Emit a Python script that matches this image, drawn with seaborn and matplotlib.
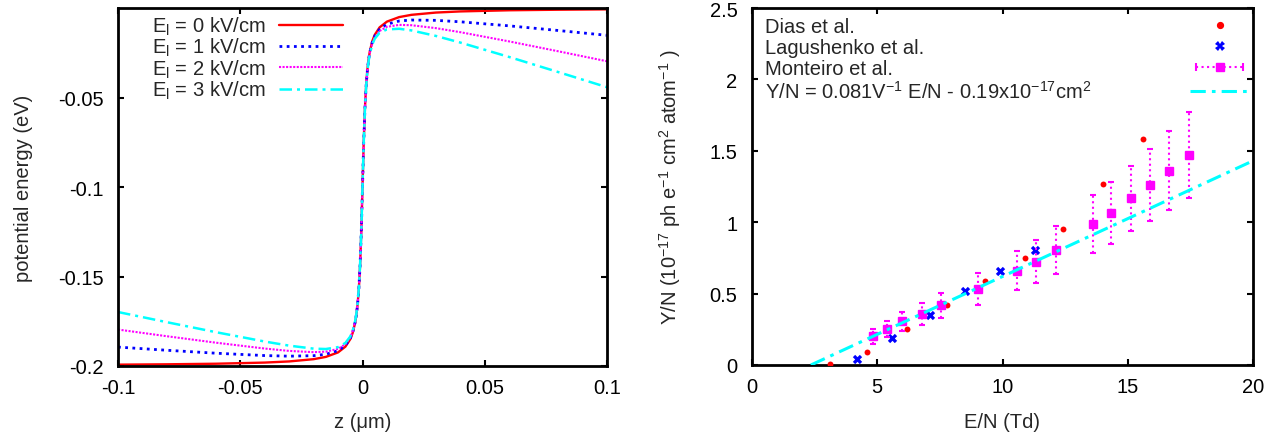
import numpy as np
import pandas as pd
import seaborn as sns
import matplotlib
matplotlib.use('Agg')
import matplotlib.pyplot as plt
from matplotlib.lines import Line2D
from matplotlib.legend_handler import HandlerLine2D, HandlerTuple
from matplotlib.ticker import FuncFormatter

# left panel: potential energy across the interface
z_um = [-0.1, -0.08, -0.06, -0.04, -0.03, -0.02, -0.015, -0.01, -0.007, -0.005,
        -0.004, -0.003, -0.0025, -0.002, -0.0015, -0.001, -0.0005, 0.0,
        0.0005, 0.001, 0.0015, 0.002, 0.0025, 0.003, 0.004, 0.005,
        0.007, 0.01, 0.015, 0.02, 0.03, 0.04, 0.06, 0.08, 0.1]
pot_e0 = [-0.19924, -0.19905, -0.19873, -0.19809, -0.19745, -0.19619, -0.19492, -0.19240, -0.18919, -0.18501,
          -0.18145, -0.17578, -0.17151, -0.16560, -0.15705, -0.14423, -0.12513, -0.1,
          -0.07487, -0.05577, -0.04296, -0.03440, -0.02849, -0.02422, -0.01856, -0.01500,
          -0.01081, -0.00760, -0.00508, -0.00382, -0.00255, -0.00191, -0.00127, -0.00096, -0.00076]
pot_e1 = [-0.18944, -0.19121, -0.19285, -0.19417, -0.19451, -0.19423, -0.19345, -0.19142, -0.18850, -0.18452,
          -0.18106, -0.17549, -0.17127, -0.16540, -0.15690, -0.14413, -0.12508, -0.1,
          -0.07494, -0.05592, -0.04318, -0.03469, -0.02885, -0.02466, -0.01914, -0.01572,
          -0.01182, -0.00905, -0.00726, -0.00672, -0.00690, -0.00771, -0.00997, -0.01256, -0.01526]
pot_e2 = [-0.17964, -0.18337, -0.18697, -0.19025, -0.19157, -0.19227, -0.19198, -0.19044, -0.18782, -0.18403,
          -0.18066, -0.17519, -0.17102, -0.16521, -0.15676, -0.14403, -0.12503, -0.1,
          -0.07502, -0.05606, -0.04339, -0.03498, -0.02922, -0.02509, -0.01972, -0.01645,
          -0.01284, -0.01050, -0.00943, -0.00962, -0.01125, -0.01351, -0.01867, -0.02416, -0.02976]
pot_e3 = [-0.16984, -0.17553, -0.18109, -0.18633, -0.18863, -0.19031, -0.19051, -0.18946, -0.18713, -0.18354,
          -0.18027, -0.17490, -0.17078, -0.16501, -0.15661, -0.14394, -0.12498, -0.1,
          -0.07509, -0.05621, -0.04361, -0.03527, -0.02958, -0.02553, -0.02030, -0.01717,
          -0.01385, -0.01195, -0.01161, -0.01252, -0.01560, -0.01931, -0.02737, -0.03576, -0.04426]
field_labels = [r'E$_\mathrm{l}$ = 0 kV/cm', r'E$_\mathrm{l}$ = 1 kV/cm',
                r'E$_\mathrm{l}$ = 2 kV/cm', r'E$_\mathrm{l}$ = 3 kV/cm']

# right panel: reduced light yield vs reduced field
dias_en = [3.1, 4.6, 6.2, 7.8, 9.3, 10.9, 12.4, 14.0, 15.6]
dias_yield = [0.01, 0.09, 0.25, 0.42, 0.585, 0.75, 0.955, 1.27, 1.58]
lag_en = [4.2, 5.6, 7.1, 8.5, 9.9, 11.3]
lag_yield = [0.045, 0.19, 0.35, 0.515, 0.66, 0.805]
mont_en = [4.83, 5.38, 6.0, 6.8, 7.53, 9.02, 10.58, 11.32, 12.12, 13.61, 14.34, 15.14, 15.89, 16.63, 17.43]
mont_yield = [0.20, 0.252, 0.305, 0.357, 0.417, 0.531, 0.66, 0.723, 0.804, 0.988, 1.063, 1.166, 1.259, 1.359, 1.471]
mont_err = [0.052, 0.058, 0.068, 0.076, 0.089, 0.112, 0.137, 0.152, 0.166, 0.203, 0.218, 0.231, 0.254, 0.277, 0.30]
fit_en = [2.35, 20.0]
fit_yield = [0.0, 1.43]
yield_labels = ['Dias et al.', 'Lagushenko et al.', 'Monteiro et al.',
                r'Y/N = 0.081V$^{-1}$ E/N - 0.19x10$^{-17}$cm$^2$']

sns.set_theme(style='ticks')
plt.rcParams['font.family'] = ['Liberation Sans', 'DejaVu Sans']
plt.rcParams['mathtext.fontset'] = 'custom'
plt.rcParams['mathtext.rm'] = 'Liberation Sans'
plt.rcParams['mathtext.it'] = 'Liberation Sans:italic'
plt.rcParams['mathtext.default'] = 'regular'
plt.rcParams['axes.unicode_minus'] = False

fs = 14.5
red, blue, mag, cyan = '#ff0000', '#0000ff', '#ff00ff', '#00ffff'
dashdot = (5, 2, 1.2, 2)

fig = plt.figure(figsize=(12.88, 4.39), dpi=100)
ax1 = fig.add_axes([118 / 1288, 72 / 439, 489 / 1288, 358 / 439])
ax2 = fig.add_axes([752 / 1288, 73 / 439, 501 / 1288, 357 / 439])

# 左圖：四條電位曲線
styles = [(red, 1.7, None), (blue, 2.0, (1, 1.6)), (mag, 1.5, (1, 0.7)), (cyan, 1.8, dashdot)]
for vals, lab, (col, lw, dash) in zip([pot_e0, pot_e1, pot_e2, pot_e3], field_labels, styles):
    sns.lineplot(x=z_um, y=vals, ax=ax1, color=col, lw=lw, sort=False, estimator=None, legend=False)
    ax1.lines[-1].set_label(lab)
    if dash:
        ax1.lines[-1].set_dashes(dash)

ax1.set_xlim(-0.1, 0.1)
ax1.set_ylim(-0.2, 0.0)
ax1.set_xticks([-0.1, -0.05, 0, 0.05, 0.1])
ax1.set_yticks([-0.2, -0.15, -0.1, -0.05])
ax1.set_xlabel('z (μm)', fontsize=fs)
ax1.set_ylabel('potential energy (eV)', fontsize=fs)
ax1.xaxis.set_label_coords(0.5, -0.128)
ax1.yaxis.set_label_coords(-0.173, 0.5)
ax1.legend(handles=ax1.lines[:4], loc='upper left', bbox_to_anchor=(0.07, 0.981),
           frameon=False, markerfirst=False, fontsize=fs, handlelength=3.2,
           handletextpad=0.65, labelspacing=-0.05, borderpad=0, borderaxespad=0)

# 右圖：實驗點與擬合直線
sns.scatterplot(x=dias_en, y=dias_yield, ax=ax2, color=red, marker='o', s=18,
                edgecolor=red, linewidth=0, legend=False, zorder=3)
sns.scatterplot(x=lag_en, y=lag_yield, ax=ax2, color=blue, marker='X', s=45,
                linewidth=0, legend=False, zorder=3)
eb = ax2.errorbar(mont_en, mont_yield, yerr=mont_err, fmt='s', color=mag, ms=5.5,
                  capsize=2.5, elinewidth=1.5, capthick=1.5, zorder=3)
eb[2][0].set_linestyle(':')
sns.lineplot(x=fit_en, y=fit_yield, ax=ax2, color=cyan, lw=2.2, legend=False)
ax2.lines[-1].set_dashes(dashdot)
ax2.lines[-1].set_zorder(4)

ax2.set_xlim(0, 20)
ax2.set_ylim(0, 2.5)
ax2.set_xticks([0, 5, 10, 15, 20])
ax2.set_yticks([0, 0.5, 1, 1.5, 2, 2.5])
ax2.set_xlabel('E/N (Td)', fontsize=fs)
ax2.set_ylabel(r'Y/N (10$^{-17}$ ph e$^{-1}$ cm$^{2}$ atom$^{-1}$ )', fontsize=fs)
ax2.xaxis.set_label_coords(0.5, -0.132)
ax2.yaxis.set_label_coords(-0.138, 0.5)

h_dias = Line2D([], [], ls='none', marker='o', color=red, ms=4.2)
h_lag = Line2D([], [], ls='none', marker='X', color=blue, ms=6.5, mew=0)
h_mont_line = Line2D([], [], ls=':', color=mag, lw=1.5, marker='|', ms=6, mew=1.5)
h_mont_sq = Line2D([], [], ls='none', marker='s', color=mag, ms=5.5)
h_fit = Line2D([], [], color=cyan, lw=2.2, dashes=dashdot)
leg2 = ax2.legend([h_dias, h_lag, (h_mont_line, h_mont_sq), h_fit], yield_labels,
                  handler_map={h_mont_line: HandlerLine2D(numpoints=2), tuple: HandlerTuple(ndivide=1)},
                  loc='upper left', bbox_to_anchor=(0.026, 0.975), frameon=False, markerfirst=False,
                  fontsize=fs, handlelength=2.95, handletextpad=1.0, labelspacing=0.1,
                  borderpad=0, borderaxespad=0)

fmt = FuncFormatter(lambda v, p: '%g' % v)
for ax in (ax1, ax2):
    ax.xaxis.set_major_formatter(fmt)
    ax.yaxis.set_major_formatter(fmt)
    ax.tick_params(direction='in', top=True, right=True, length=4.5, width=1.5,
                   colors='black', labelsize=fs)
    ax.tick_params(axis='x', pad=8.5)
    ax.tick_params(axis='y', pad=10.5)
    for sp in ax.spines.values():
        sp.set_linewidth(2.0)
        sp.set_color('black')
    ax.set_facecolor('white')

# gnuplot 風格：文字靠左、圖例樣本靠右對齊
fig.canvas.draw()
renderer = fig.canvas.get_renderer()
text_left = 752 + 0.026 * 501
handle_left = 1190
widths = [t.get_window_extent(renderer).width for t in leg2.get_texts()]
rows = [r for col in leg2._legend_handle_box.get_children() for r in col.get_children()]
for row, w in zip(rows, widths):
    row.sep = (handle_left - text_left - w) * 72 / fig.dpi

fig.savefig('out.png', dpi=100, facecolor='white')
